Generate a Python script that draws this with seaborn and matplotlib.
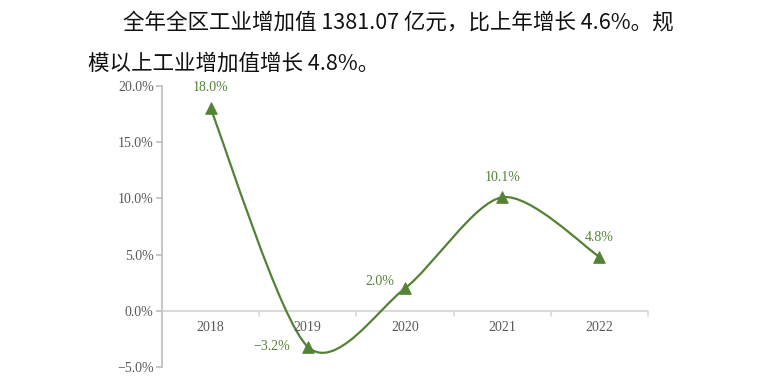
import numpy as np
import pandas as pd
import matplotlib
matplotlib.use("Agg")
import matplotlib.pyplot as plt
from matplotlib.path import Path
from matplotlib.patches import PathPatch
import seaborn as sns

years = ["2018", "2019", "2020", "2021", "2022"]
growth = [18.0, -3.2, 2.0, 10.1, 4.8]
labels = ["18.0%", "\u22123.2%", "2.0%", "10.1%", "4.8%"]
y_ticks = [-5, 0, 5, 10, 15, 20]
line1 = "全年全区工业增加值 1381.07 亿元，比上年增长 4.6%。规"
line2 = "模以上工业增加值增长 4.8%。"

green = "#548235"
gray = "#bfbfbf"
text_gray = "#595959"

sns.set_theme(style="white")
plt.rcParams["font.family"] = ["Liberation Serif", "DejaVu Serif"]

df = pd.DataFrame({"year": years, "growth": growth})
df["x"] = np.arange(len(df))

fig = plt.figure(figsize=(7.67, 3.87), dpi=100)
ax = fig.add_axes([0.2112, 0.0517, 0.6337, 0.7261])

# smooth curve: cardinal spline segments as cubic bezier path
k = 1 / 7
xs = df["x"].to_numpy(dtype=float)
ys = df["growth"].to_numpy(dtype=float)
px = np.concatenate([[xs[0]], xs, [xs[-1]]])
py = np.concatenate([[ys[0]], ys, [ys[-1]]])
verts = [(xs[0], ys[0])]
codes = [Path.MOVETO]
for i in range(1, len(px) - 2):
    c1 = (px[i] + (px[i + 1] - px[i - 1]) * k, py[i] + (py[i + 1] - py[i - 1]) * k)
    c2 = (px[i + 1] - (px[i + 2] - px[i]) * k, py[i + 1] - (py[i + 2] - py[i]) * k)
    verts += [c1, c2, (px[i + 1], py[i + 1])]
    codes += [Path.CURVE4] * 3
ax.add_patch(PathPatch(Path(verts, codes), fill=False, edgecolor=green, lw=1.6, zorder=3))

sns.scatterplot(data=df, x="x", y="growth", marker="^", s=70, color=green,
                edgecolor=green, ax=ax, zorder=4, legend=False)

offsets = [(0, 15), (-26, 0), (-18, 5), (0, 14), (0, 14)]
for xi, yi, lab, (dx, dy) in zip(xs, ys, labels, offsets):
    ax.annotate(lab, (xi, yi), xytext=(dx, dy), textcoords="offset points",
                ha="center", va="center", color=green, fontsize=10)

ax.set_xlim(-0.5, 4.5)
ax.set_ylim(-5, 20)
ax.set_yticks(y_ticks)
ax.set_yticklabels([f"{v:.1f}%".replace("-", "\u2212") for v in y_ticks],
                   color=text_gray, fontsize=10)
ax.set_xticks([])
ax.set_xlabel("")
ax.set_ylabel("")
for s in ["top", "right", "bottom"]:
    ax.spines[s].set_visible(False)
ax.spines["left"].set_color(gray)
ax.tick_params(axis="y", length=4, color=gray, pad=2, left=True)

# category axis on the zero line
ax.axhline(0, color="#d9d9d9", lw=1.5, zorder=1)
for b in np.arange(0.5, 5.0, 1.0):
    ax.plot([b, b], [0, -0.45], color="#d9d9d9", lw=1.2, zorder=1, clip_on=False)
for xi, yr in zip(xs, years):
    ax.text(xi, -1.5, yr, ha="center", va="center", color=text_gray, fontsize=10)

cjk = ["Noto Sans CJK SC", "DejaVu Sans"]
fig.text(123 / 767, 1 - 23 / 387, line1, family=cjk, fontsize=15.5, va="center", color="#111111")
fig.text(88 / 767, 1 - 64 / 387, line2, family=cjk, fontsize=15.5, va="center", color="#111111")

fig.savefig("out.png", dpi=100)
